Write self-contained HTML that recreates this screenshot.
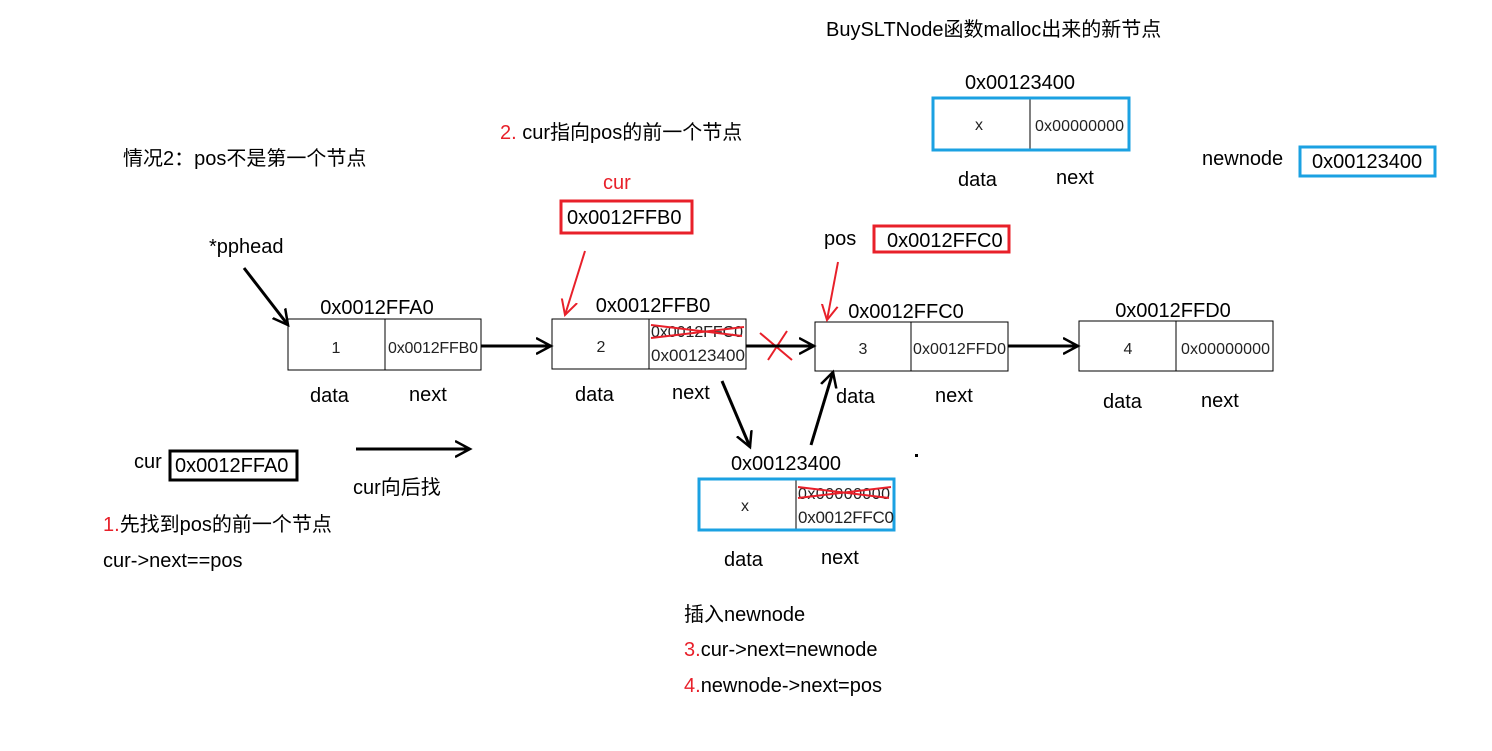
<!DOCTYPE html>
<html><head><meta charset="utf-8"><style>
body{margin:0;background:#fff;}
svg{display:block;font-family:"Liberation Sans","Noto Sans CJK SC",sans-serif;}
</style></head><body>
<svg width="1492" height="751" viewBox="0 0 1492 751" xmlns="http://www.w3.org/2000/svg">
<defs>
<marker id="a" markerWidth="18" markerHeight="18" refX="15" refY="9" orient="auto" markerUnits="userSpaceOnUse"><path d="M0,1 L15,9 L0,17" fill="none" stroke="#000" stroke-width="2.5"/></marker>
<marker id="r" markerWidth="18" markerHeight="18" refX="15" refY="9" orient="auto" markerUnits="userSpaceOnUse"><path d="M0,1 L15,9 L0,17" fill="none" stroke="#e8202a" stroke-width="2"/></marker>
</defs>
<g font-size="20" fill="#000">
<text x="826" y="36">BuySLTNode函数malloc出来的新节点</text>
<text x="123" y="165">情况2：pos不是第一个节点</text>
<text x="500" y="139"><tspan fill="#e8202a">2.</tspan> cur指向pos的前一个节点</text>
<text x="603" y="189" fill="#e8202a">cur</text>
<text x="824" y="245">pos</text>
<text x="1202" y="165">newnode</text>
<text x="209" y="253">*pphead</text>
<text x="134" y="468">cur</text>
<text x="353" y="494">cur向后找</text>
<text x="103" y="531"><tspan fill="#e8202a">1.</tspan>先找到pos的前一个节点</text>
<text x="103" y="567">cur-&gt;next==pos</text>
<text x="684" y="621">插入newnode</text>
<text x="684" y="656"><tspan fill="#e8202a">3.</tspan>cur-&gt;next=newnode</text>
<text x="684" y="692"><tspan fill="#e8202a">4.</tspan>newnode-&gt;next=pos</text>
<text x="377" y="314" text-anchor="middle">0x0012FFA0</text>
<text x="653" y="312" text-anchor="middle">0x0012FFB0</text>
<text x="906" y="318" text-anchor="middle">0x0012FFC0</text>
<text x="1173" y="317" text-anchor="middle">0x0012FFD0</text>
<text x="1020" y="89" text-anchor="middle">0x00123400</text>
<text x="786" y="470" text-anchor="middle">0x00123400</text>
<text x="310" y="402">data</text><text x="409" y="401">next</text>
<text x="575" y="401">data</text><text x="672" y="399">next</text>
<text x="836" y="403">data</text><text x="935" y="402">next</text>
<text x="1103" y="408">data</text><text x="1201" y="407">next</text>
<text x="958" y="186">data</text><text x="1056" y="184">next</text>
<text x="724" y="566">data</text><text x="821" y="564">next</text>
</g>
<g fill="none" stroke="#000" stroke-width="1">
<rect x="288" y="319" width="193" height="51"/><line x1="385" y1="319" x2="385" y2="370"/>
<rect x="552" y="319" width="194" height="50"/><line x1="649" y1="319" x2="649" y2="369"/>
<rect x="815" y="322" width="193" height="49"/><line x1="911" y1="322" x2="911" y2="371"/>
<rect x="1079" y="321" width="194" height="50"/><line x1="1176" y1="321" x2="1176" y2="371"/>
<line x1="1030" y1="98" x2="1030" y2="150"/>
<line x1="796" y1="479" x2="796" y2="530"/>
</g>
<g fill="none" stroke="#1ba1e2" stroke-width="3">
<rect x="933" y="98" width="196" height="52"/>
<rect x="699" y="479" width="195" height="51"/>
<rect x="1300" y="147" width="135" height="29"/>
</g>
<g fill="none" stroke="#e8202a" stroke-width="3">
<rect x="561" y="201" width="131" height="32"/>
<rect x="874" y="226" width="135" height="26"/>
</g>
<rect x="170" y="451" width="127" height="29" fill="none" stroke="#000" stroke-width="3"/>
<g font-size="20">
<text x="567" y="224">0x0012FFB0</text>
<text x="887" y="247">0x0012FFC0</text>
<text x="1312" y="168">0x00123400</text>
<text x="175" y="472">0x0012FFA0</text>
</g>
<g font-size="16" fill="#222">
<text x="336" y="353" text-anchor="middle">1</text>
<text x="388" y="353" textLength="90">0x0012FFB0</text>
<text x="601" y="352" text-anchor="middle">2</text>
<text x="651" y="337" textLength="92">0x0012FFC0</text>
<text x="651" y="361" font-size="17" textLength="94">0x00123400</text>
<text x="863" y="354" text-anchor="middle">3</text>
<text x="913" y="354" textLength="93">0x0012FFD0</text>
<text x="1128" y="354" text-anchor="middle">4</text>
<text x="1181" y="354" textLength="89">0x00000000</text>
<text x="979" y="130" text-anchor="middle">x</text>
<text x="1035" y="131" textLength="89">0x00000000</text>
<text x="745" y="511" text-anchor="middle">x</text>
<text x="798" y="499" textLength="92">0x00000000</text>
<text x="798" y="523" font-size="17" textLength="96">0x0012FFC0</text>
</g>
<g stroke="#e8202a" stroke-width="2" fill="none">
<path d="M651,325 L742,336 M651,338 L744,327"/>
<path d="M798,487 L889,498 M798,498 L891,487"/>
<path d="M760,333 L792,360 M787,331 L768,360"/>
</g>
<g stroke="#000" stroke-width="3" fill="none">
<line x1="244" y1="268" x2="288" y2="325" marker-end="url(#a)"/>
<line x1="481" y1="346" x2="551" y2="346" marker-end="url(#a)"/>
<line x1="746" y1="346" x2="814" y2="346" marker-end="url(#a)"/>
<line x1="1008" y1="346" x2="1078" y2="346" marker-end="url(#a)"/>
<line x1="722" y1="381" x2="750" y2="447" marker-end="url(#a)"/>
<line x1="811" y1="445" x2="833" y2="372" marker-end="url(#a)"/>
<line x1="356" y1="449" x2="470" y2="449" marker-end="url(#a)"/>
</g>
<g stroke="#e8202a" stroke-width="2" fill="none">
<line x1="585" y1="251" x2="565" y2="315" marker-end="url(#r)"/>
<line x1="838" y1="262" x2="827" y2="320" marker-end="url(#r)"/>
</g>
<rect x="915" y="454" width="3" height="3" fill="#000"/>
</svg>
</body></html>
